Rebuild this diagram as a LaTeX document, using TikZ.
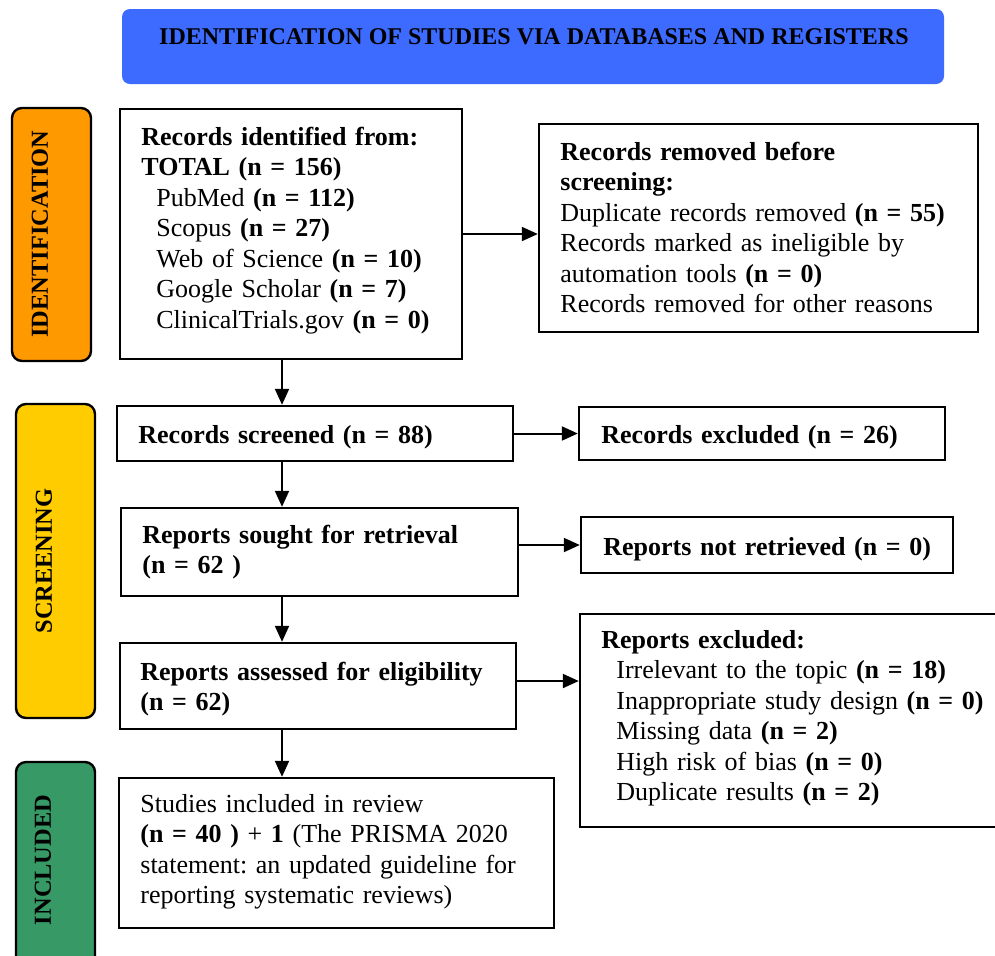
\documentclass[tikz,border=0pt]{standalone}
\usepackage{fontspec}
\setmainfont{Liberation Serif}
\usetikzlibrary{arrows.meta,fit}
\definecolor{hdrblue}{HTML}{3D6BFF}
\definecolor{idorange}{HTML}{FF9900}
\definecolor{scyellow}{HTML}{FFCC00}
\definecolor{ingreen}{HTML}{379966}
\frenchspacing
\begin{document}
\begin{tikzpicture}[x=0.5pt,y=-0.5pt,
  box/.style={draw=black, line width=1.2pt, inner sep=0pt, fill=white},
  phase/.style={draw=black, line width=1.2pt, inner sep=0pt, rounded corners=5pt},
  phasetxt/.style={rotate=90, font=\fontsize{12.2}{14}\selectfont\bfseries, inner sep=0pt},
  txt/.style={anchor=base west, inner sep=0pt, text width=#1, align=left, font=\fontsize{13}{15.25}\selectfont},
  arr/.style={line width=1pt, -{Triangle[length=8pt,width=7pt]}},
]
\clip (0,0) rectangle (995,955);
\fill[white] (0,0) rectangle (995,955);

% header
\node[fill=hdrblue, rounded corners=4pt, inner sep=0pt, fit={(122,9) (944,84)}] (hdr) {};
\node[anchor=base, inner sep=0pt, font=\fontsize{12}{14}\selectfont\bfseries] (hdrt) at (534,44) {IDENTIFICATION OF STUDIES VIA DATABASES AND REGISTERS};

% phase labels
\node[phase, fill=idorange, fit={(12,108) (91,361)}] (pid) {};
\node[phasetxt] (pidt) at (40,234) {IDENTIFICATION};
\node[phase, fill=scyellow, fit={(16,404) (95,718)}] (psc) {};
\node[phasetxt] (psct) at (44,561) {SCREENING};
\node[phase, fill=ingreen, fit={(16,762) (95,985)}] (pin) {};
\node[phasetxt] (pint) at (43,860) {INCLUDED};

% boxes
\node[box, fit={(120,109) (462,359)}] (b1) {};
\node[box, fit={(539,124) (978,332)}] (b2) {};
\node[box, fit={(117,406) (513,461)}] (b3) {};
\node[box, fit={(579,407) (945,460)}] (ex) {};
\node[box, fit={(121,508) (518,596)}] (b4) {};
\node[box, fit={(581,517) (953,573)}] (nr) {};
\node[box, fit={(120,643) (516,729)}] (b5) {};
\node[box, fit={(580,614) (1010,827)}] (re) {};
\node[box, fit={(119,778) (554,928)}] (b6) {};

% texts
\node[txt=200pt] (t1) at (141,145) {\textbf{Records identified from:}\\
\textbf{TOTAL (n = 156)}\\
\hspace*{7.5pt}PubMed \textbf{(n = 112)}\\
\hspace*{7.5pt}Scopus \textbf{(n = 27)}\\
\hspace*{7.5pt}Web of Science \textbf{(n = 10)}\\
\hspace*{7.5pt}Google Scholar \textbf{(n = 7)}\\
\hspace*{7.5pt}ClinicalTrials.gov \textbf{(n = 0)}};

\node[txt=215pt] (t2) at (560,160) {\textbf{Records removed before}\\
\textbf{screening:}\\
Duplicate records removed \textbf{(n = 55)}\\
Records marked as ineligible by\\
automation tools \textbf{(n = 0)}\\
Records removed for other reasons};

\node[txt=195pt] (t3) at (138,443) {\textbf{Records screened (n = 88)}};
\node[txt=180pt] (tex) at (601,443) {\textbf{Records excluded (n = 26)}};
\node[txt=195pt] (t4) at (142,543) {\textbf{Reports sought for retrieval}\\\textbf{(n = 62 )}};
\node[txt=180pt] (tnr) at (603,555) {\textbf{Reports not retrieved (n = 0)}};
\node[txt=195pt] (t5) at (140,680) {\textbf{Reports assessed for eligibility}\\\textbf{(n = 62)}};
\node[txt=200pt] (tre) at (601,648) {\textbf{Reports excluded:}\\
\hspace*{7.5pt}Irrelevant to the topic \textbf{(n = 18)}\\
\hspace*{7.5pt}Inappropriate study design \textbf{(n = 0)}\\
\hspace*{7.5pt}Missing data \textbf{(n = 2)}\\
\hspace*{7.5pt}High risk of bias \textbf{(n = 0)}\\
\hspace*{7.5pt}Duplicate results \textbf{(n = 2)}};
\node[txt=210pt] (t6) at (140,812) {Studies included in review\\
\textbf{(n = 40 )} + \textbf{1} (The PRISMA 2020\\
statement: an updated guideline for\\
reporting systematic reviews)};

% connectors
\coordinate (col) at (282,0);
\draw[arr] (b1.east) -- (b1.east -| b2.west);
\draw[arr] (b1.south -| col) -- (b3.north -| col);
\draw[arr] (b3.east) -- (b3.east -| ex.west);
\draw[arr] (b3.south -| col) -- (b4.north -| col);
\draw[arr] (b4.east |- nr.west) -- (nr.west);
\draw[arr] (b4.south -| col) -- (b5.north -| col);
\draw[arr] ([yshift=2.5pt]b5.east) -- ([yshift=2.5pt]b5.east -| re.west);
\draw[arr] (b5.south -| col) -- (b6.north -| col);
\end{tikzpicture}
\end{document}
